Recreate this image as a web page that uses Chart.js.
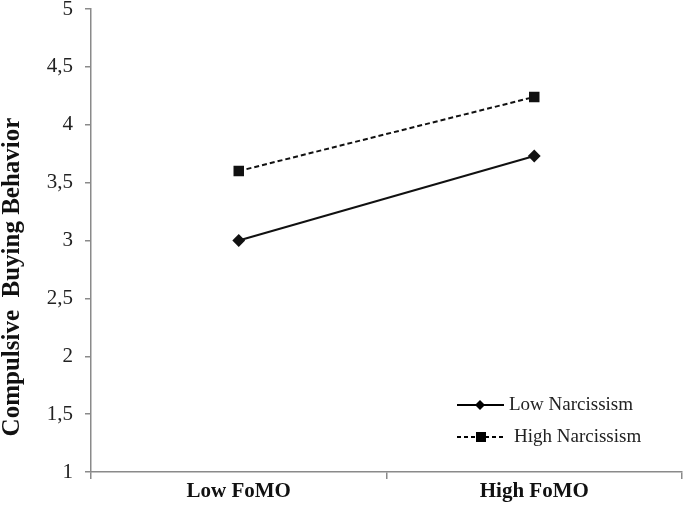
<!DOCTYPE html>
<html>
<head>
<meta charset="utf-8">
<script src="https://cdn.jsdelivr.net/npm/chart.js@4"></script>
<style>
  html, body { margin: 0; padding: 0; background: #fff; }
  #wrap { width: 685px; height: 512px; }
</style>
</head>
<body>
<div id="wrap"><canvas id="chart" width="685" height="512"></canvas></div>
<script>
const categories = ['Low FoMO', 'High FoMO'];
const lowNarcissism = [3.0, 3.73];
const highNarcissism = [3.6, 4.24];
const yTicks = [1, 1.5, 2, 2.5, 3, 3.5, 4, 4.5, 5];

const serif = '"Liberation Serif", "Times New Roman", serif';
const axisGrey = '#8a8a8a';

// legend inside the plot (bottom right) + y title, which sits below centre in the original
const extras = {
  id: 'extras',
  afterDraw(chart) {
    const ctx = chart.ctx;
    const rows = [
      { label: 'Low Narcissism', y: 405, dash: [], mark: 'diamond', textX: 509 },
      { label: 'High Narcissism', y: 437, dash: [4, 3], mark: 'square', textX: 514 }
    ];
    ctx.save();
    rows.forEach(r => {
      ctx.strokeStyle = '#000';
      ctx.lineWidth = 2;
      ctx.setLineDash(r.dash);
      ctx.beginPath();
      ctx.moveTo(457, r.y);
      ctx.lineTo(504, r.y);
      ctx.stroke();
      ctx.setLineDash([]);
      ctx.fillStyle = '#000';
      if (r.mark === 'diamond') {
        ctx.beginPath();
        ctx.moveTo(480, r.y - 5);
        ctx.lineTo(485, r.y);
        ctx.lineTo(480, r.y + 5);
        ctx.lineTo(475, r.y);
        ctx.closePath();
        ctx.fill();
      } else {
        ctx.fillRect(476, r.y - 5, 10, 10);
      }
      ctx.font = '19px ' + serif;
      ctx.textBaseline = 'middle';
      ctx.textAlign = 'left';
      ctx.fillStyle = '#222';
      ctx.fillText(r.label, r.textX, r.y);
    });

    ctx.translate(13, 277);
    ctx.rotate(-Math.PI / 2);
    ctx.font = 'bold 25px ' + serif;
    ctx.textAlign = 'center';
    ctx.textBaseline = 'middle';
    ctx.fillStyle = '#111';
    ctx.fillText('Compulsive  Buying Behavior', 0, 0);
    ctx.restore();
  }
};

new Chart(document.getElementById('chart').getContext('2d'), {
  type: 'line',
  data: {
    labels: categories,
    datasets: [{
      label: 'Low Narcissism',
      data: lowNarcissism,
      borderColor: '#111',
      backgroundColor: '#111',
      borderWidth: 2,
      pointStyle: 'rectRot',
      pointRadius: 5,
      pointHoverRadius: 5
    }, {
      label: 'High Narcissism',
      data: highNarcissism,
      borderColor: '#111',
      backgroundColor: '#111',
      borderWidth: 2,
      borderDash: [5, 3],
      pointStyle: 'rect',
      pointRadius: 6,
      pointHoverRadius: 6
    }]
  },
  options: {
    responsive: false,
    maintainAspectRatio: false,
    animation: false,
    layout: { autoPadding: false, padding: { top: 9, right: 3, left: 0, bottom: 0 } },
    plugins: {
      legend: { display: false },
      tooltip: { enabled: false }
    },
    scales: {
      x: {
        offset: true,
        grid: { offset: true, drawOnChartArea: false, tickLength: 7, color: axisGrey, lineWidth: 1.5 },
        border: { color: axisGrey, width: 1.5 },
        ticks: { color: '#111', font: { family: serif, size: 21, weight: 'bold' }, padding: 0 },
        afterFit(scale) {
          scale.height = 40;
          scale.paddingLeft = 0;
          scale.paddingRight = 0;
        }
      },
      y: {
        min: 1,
        max: 5,
        afterBuildTicks(scale) { scale.ticks = yTicks.map(v => ({ value: v })); },
        grid: { drawOnChartArea: false, tickLength: 6, color: axisGrey, lineWidth: 1.5 },
        border: { color: axisGrey, width: 1.5 },
        ticks: {
          color: '#222',
          font: { family: serif, size: 21 },
          padding: 12,
          callback: v => String(v).replace('.', ',')
        },
        afterFit(scale) {
          scale.width = 91;
          scale.paddingTop = 0;
          scale.paddingBottom = 0;
        }
      }
    }
  },
  plugins: [extras]
});
</script>
</body>
</html>
